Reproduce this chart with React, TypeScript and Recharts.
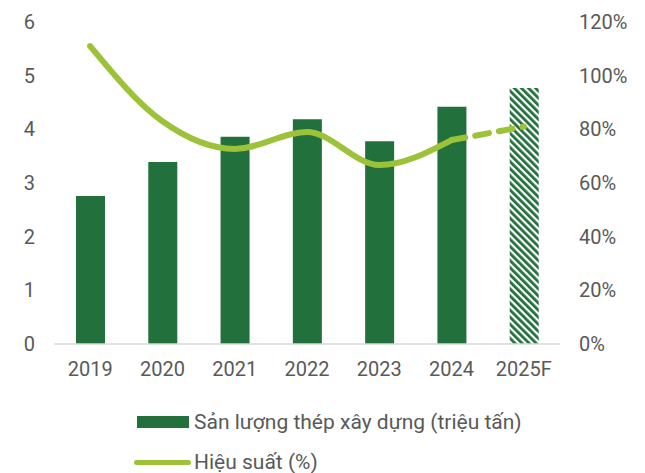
import React from "react";
import {
  ComposedChart,
  Bar,
  Line,
  XAxis,
  YAxis,
  Cell,
} from "recharts";

const YEARS = ["2019", "2020", "2021", "2022", "2023", "2024", "2025F"];
const OUTPUT = [2.76, 3.39, 3.86, 4.19, 3.78, 4.42, 4.77];
const EFFICIENCY = [111, 83, 72.7, 79, 66.7, 76, null];
const EFFICIENCY_FORECAST = [null, null, null, null, null, 76, 81];
const LEFT_TICKS = [0, 1, 2, 3, 4, 5, 6];
const RIGHT_TICKS = [0, 20, 40, 60, 80, 100, 120];

const BAR_GREEN = "#22703c";
const LINE_GREEN = "#9cc23a";
const TEXT = "#595959";
const FONT = "Roboto, sans-serif";

const data = YEARS.map((year, i) => ({
  year,
  output: OUTPUT[i],
  eff: EFFICIENCY[i],
  effF: EFFICIENCY_FORECAST[i],
}));

const tickStyle = { fontSize: 20, fill: TEXT, fontFamily: FONT };

export default function App() {
  return (
    <div style={{ position: "relative", width: 645, height: 473, background: "#fff", fontFamily: FONT, overflow: "hidden" }}>
      <style>{`body{margin:0}`}</style>
      <ComposedChart
        width={645}
        height={390}
        data={data}
        margin={{ top: 22, right: 0, bottom: 16, left: 0 }}
        barSize={29}
      >
        <defs>
          {/* forecast bar: diagonal dark-green stripes */}
          <pattern id="hatch" width="5" height="5" patternUnits="userSpaceOnUse" patternTransform="rotate(-45)">
            <rect width="5" height="5" fill="#fff" />
            <rect width="2.8" height="5" fill={BAR_GREEN} />
          </pattern>
        </defs>
        <XAxis
          dataKey="year"
          tick={tickStyle}
          tickLine={false}
          axisLine={{ stroke: "#d9d9d9", strokeWidth: 1.5 }}
          tickMargin={12}
          height={30}
        />
        <YAxis
          yAxisId="left"
          domain={[0, 6]}
          ticks={LEFT_TICKS}
          tick={tickStyle}
          tickLine={false}
          axisLine={false}
          width={54}
          tickMargin={13}
        />
        <YAxis
          yAxisId="right"
          orientation="right"
          domain={[0, 120]}
          ticks={RIGHT_TICKS}
          tickFormatter={(v) => `${v}%`}
          tick={{ ...tickStyle, textAnchor: "start" }}
          tickLine={false}
          axisLine={false}
          width={85}
          tickMargin={13}
        />
        <Bar yAxisId="left" dataKey="output" isAnimationActive={false}>
          {data.map((d, i) => (
            <Cell key={i} fill={d.year.endsWith("F") ? "url(#hatch)" : BAR_GREEN} />
          ))}
        </Bar>
        <Line
          yAxisId="right"
          dataKey="eff"
          type="monotone"
          stroke={LINE_GREEN}
          strokeWidth={6}
          strokeLinecap="round"
          dot={false}
          activeDot={false}
          connectNulls={false}
          isAnimationActive={false}
        />
        <Line
          yAxisId="right"
          dataKey="effF"
          type="monotone"
          stroke={LINE_GREEN}
          strokeWidth={6}
          strokeLinecap="round"
          strokeDasharray="14 10"
          dot={false}
          activeDot={false}
          isAnimationActive={false}
        />
      </ComposedChart>
      <div style={{ position: "absolute", left: 134, top: 409, height: 26, display: "flex", alignItems: "center", color: TEXT, fontSize: 21 }}>
        <span style={{ display: "inline-block", width: 52, height: 12, background: BAR_GREEN, marginLeft: 3, marginRight: 5 }} />
        <span>Sản lượng thép xây dựng (triệu tấn)</span>
      </div>
      <div style={{ position: "absolute", left: 134, top: 449, height: 26, display: "flex", alignItems: "center", color: TEXT, fontSize: 21 }}>
        <span style={{ display: "inline-block", width: 57, height: 5, borderRadius: 3, background: LINE_GREEN, marginRight: 3 }} />
        <span>Hiệu suất (%)</span>
      </div>
    </div>
  );
}
